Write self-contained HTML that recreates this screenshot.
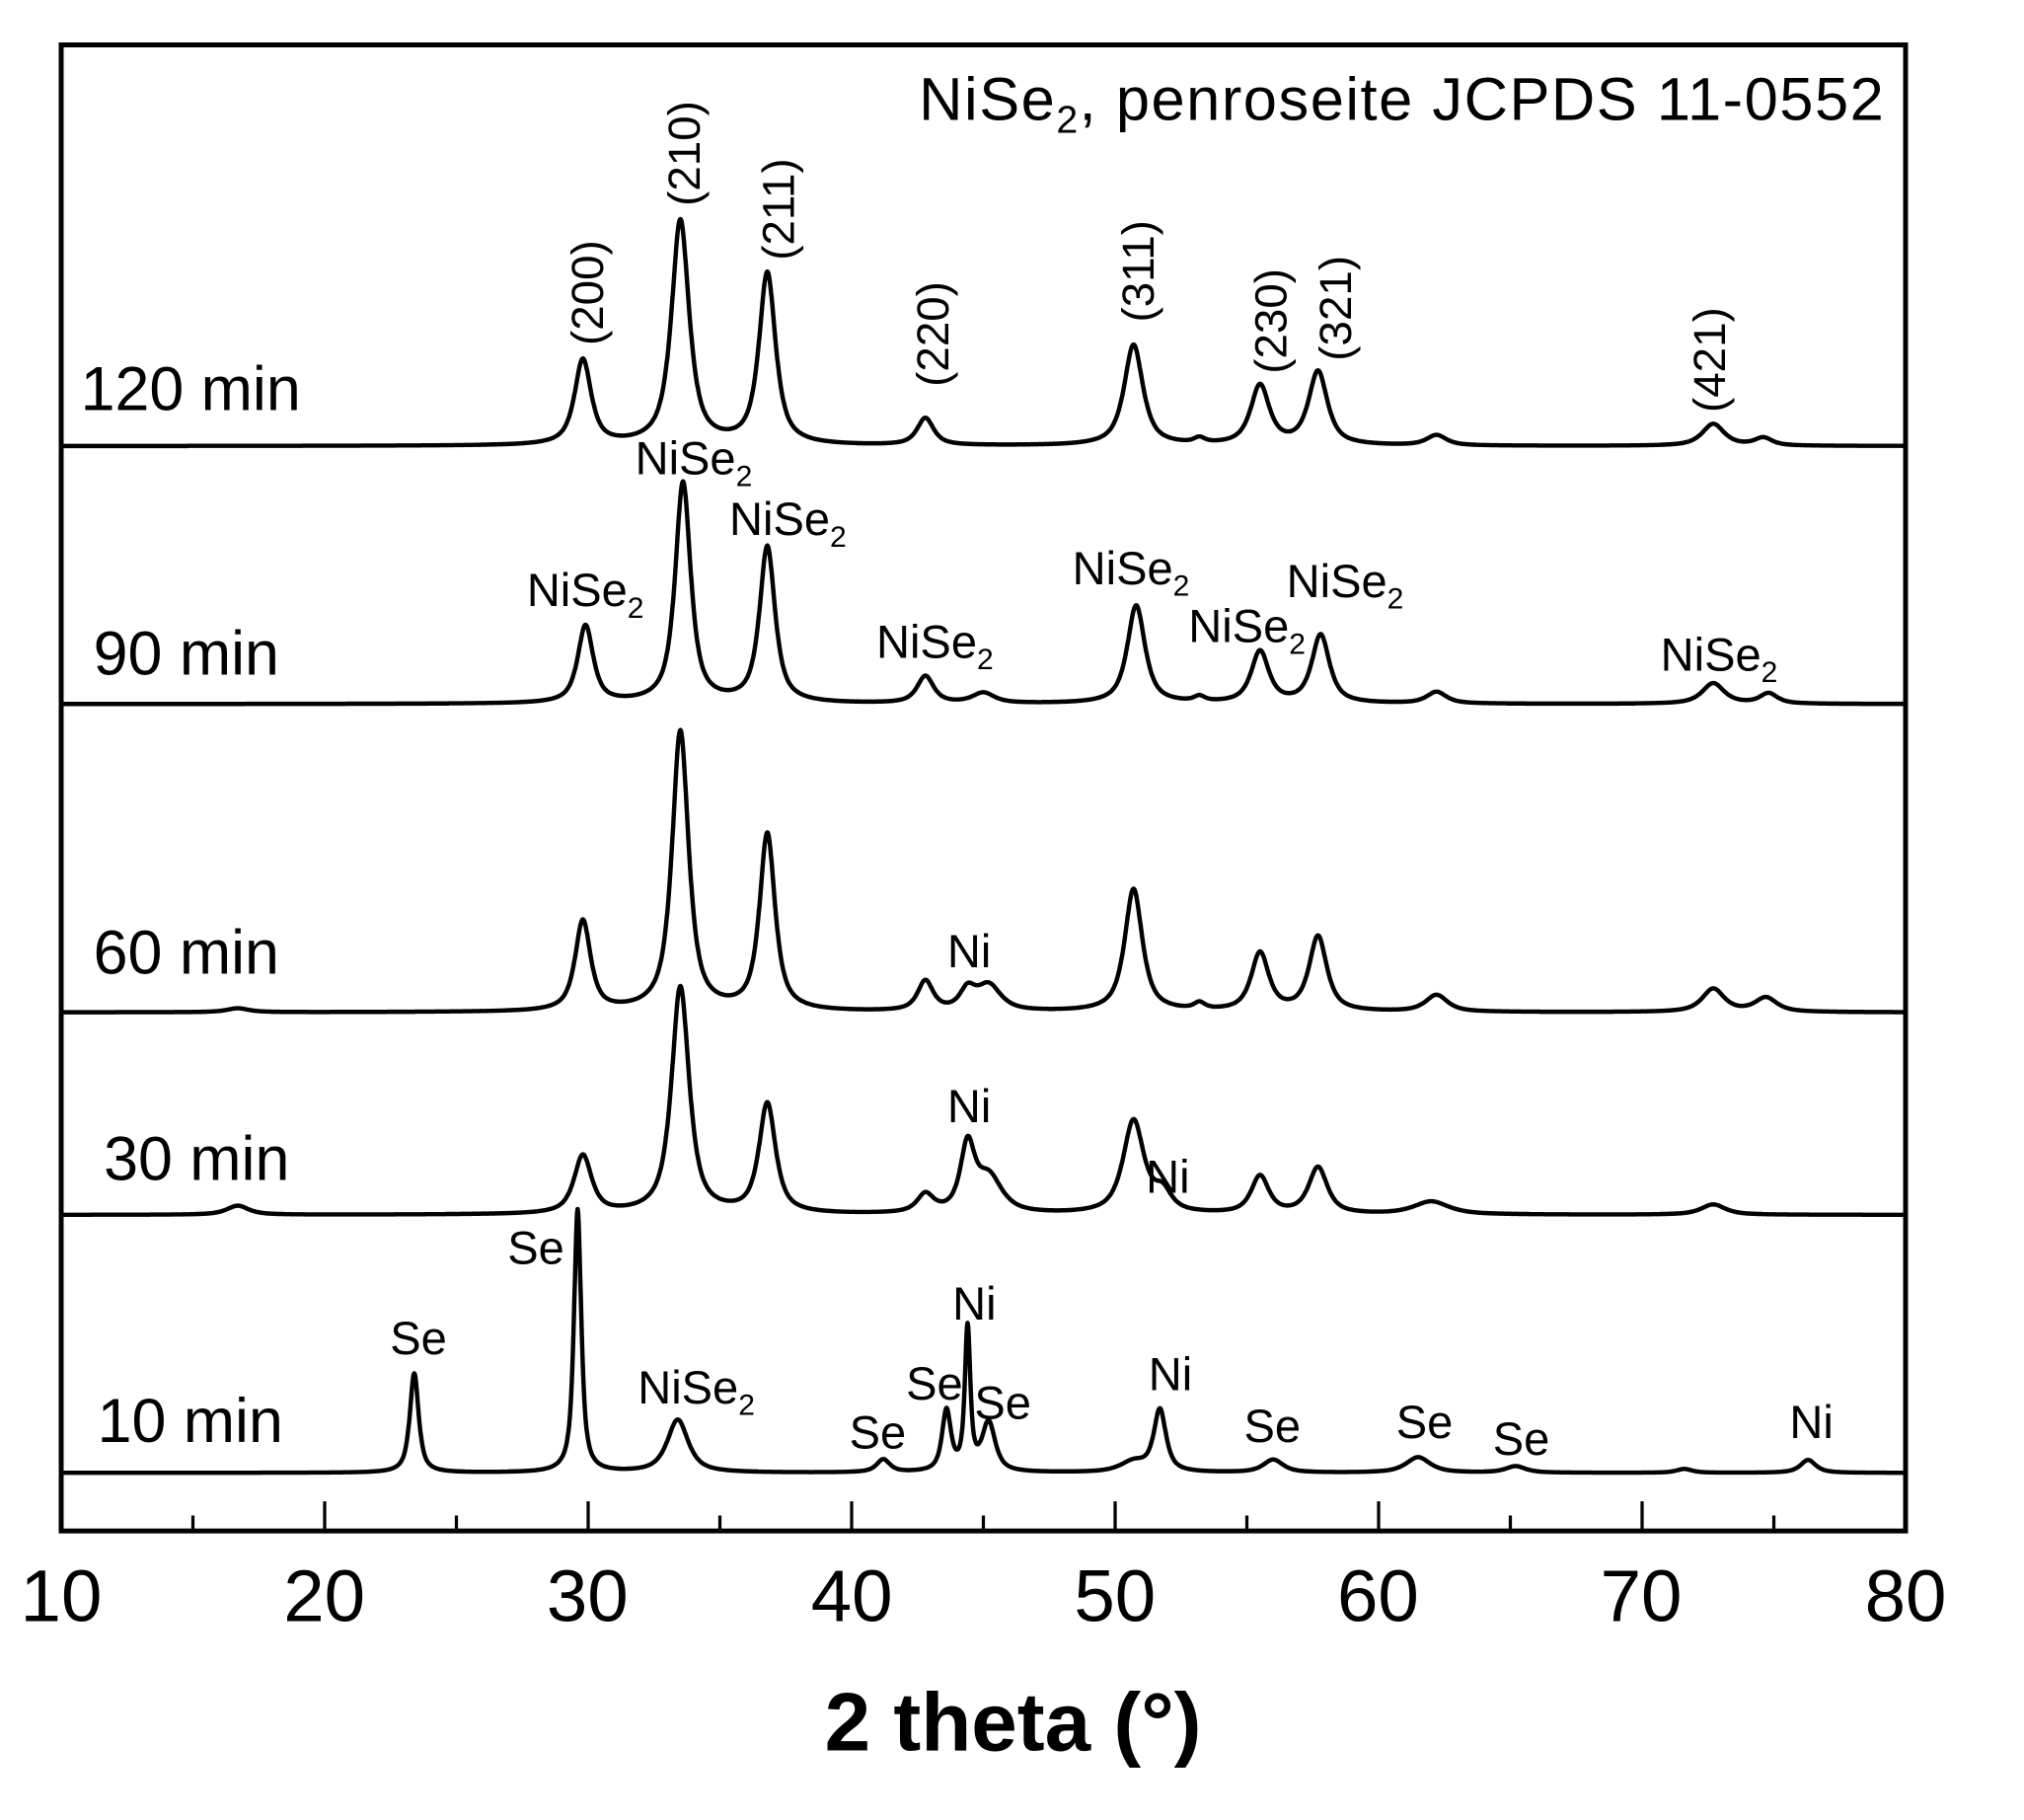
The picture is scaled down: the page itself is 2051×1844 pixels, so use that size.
<!DOCTYPE html>
<html><head><meta charset="utf-8"><style>
html,body{margin:0;padding:0;background:#fff;}
svg{display:block;}
text{font-family:"Liberation Sans",Arial,sans-serif;fill:#000;}
</style></head><body>
<svg id="s" width="2051" height="1844" viewBox="0 0 2051 1844" xmlns="http://www.w3.org/2000/svg">
<g transform="translate(0.57,-0.25) scale(1.307)">
<rect x="47" y="35" width="1430" height="1152" fill="none" stroke="#000" stroke-width="3.8"/>
<g id="ticks" stroke="#000" stroke-width="2.5"></g>
<g id="curves" fill="none" stroke="#000" stroke-width="3.4" stroke-linejoin="round"></g>
<g font-size="57" text-anchor="middle">
<text x="47" y="1257">10</text><text x="251" y="1257">20</text><text x="455" y="1257">30</text>
<text x="660" y="1257">40</text><text x="864" y="1257">50</text><text x="1068" y="1257">60</text>
<text x="1272" y="1257">70</text><text x="1477" y="1257">80</text>
</g>
<text x="785" y="1357" font-size="64" font-weight="bold" text-anchor="middle">2 theta (°)</text>
<text x="1460" y="93" font-size="47" text-anchor="end" textLength="748">NiSe<tspan font-size="30" dy="10">2</tspan><tspan dy="-10">, penroseite JCPDS 11-0552</tspan></text>
<g font-size="48">
<text x="62" y="318">120 min</text><text x="72" y="523">90 min</text>
<text x="72" y="755">60 min</text><text x="80" y="915">30 min</text><text x="75" y="1118">10 min</text>
</g>
<g font-size="35" id="miller"></g>
<g font-size="36" id="lbl"></g>
</g>
</svg>
<script>
var NS="http://www.w3.org/2000/svg";
function X(d){return 47+(d-10)*20.4286;}
var tk=document.getElementById('ticks');
for(var d=15;d<80;d+=5){var l=document.createElementNS(NS,'line');var maj=(d%10==0);
l.setAttribute('x1',X(d));l.setAttribute('x2',X(d));l.setAttribute('y1',1187);l.setAttribute('y2',1187-(maj?23:12));tk.appendChild(l);}
function pv(x,c,w){var t=(x-c)/(w/2);var L=1/(1+t*t);var G=Math.exp(-0.693*t*t);return 0.8*L+0.2*G;}
var series=[
 {b:346,p:[[29.8,66,.75],[33.5,174,.8],[36.8,133,.75],[42.8,21,.75],[50.7,78,.85],[53.2,4,.5],[55.5,46,.85],[57.7,57,.85],[62.2,8,.9],[72.7,17,1.0],[74.6,6,.8]]},
 {b:546,p:[[29.9,60,.7],[33.6,171,.7],[36.8,121,.7],[42.8,21,.75],[45,8,1.0],[50.8,76,.8],[53.2,4,.5],[55.5,40,.8],[57.8,53,.8],[62.2,9,.9],[72.7,16,1.0],[74.8,8,.8]]},
 {b:785,p:[[16.7,3,1.0],[29.8,70,.7],[33.5,217,.75],[36.8,137,.7],[42.8,23,.7],[44.4,15,.7],[45.2,20,1.1],[50.7,95,.8],[53.2,5,.5],[55.5,45,.8],[57.7,58,.8],[62.2,13,1.0],[72.7,18,1.0],[74.7,11,1.0]]},
 {b:942,p:[[16.7,7,1.0],[29.8,45,.8],[33.5,176,.8],[36.8,85,.75],[42.8,14,.75],[44.4,50,.65],[45.2,28,1.2],[50.7,72,.95],[51.8,15,.8],[55.5,29,.8],[57.7,36,.85],[62,10,1.6],[72.7,8,1.1]]},
 {b:1142,p:[[23.4,77,.4],[29.6,204,.33],[33.4,41,.95],[41.2,10,.6],[43.6,47,.4],[44.4,110,.25],[45.2,38,.6],[50.7,8,1.2],[51.7,48,.55],[56,10,.9],[61.5,12,1.1],[65.2,5,.9],[71.6,3,.7],[76.3,10,.7]]}
];
var cg=document.getElementById('curves');
series.forEach(function(s){var pts=[];for(var d=10;d<=80.001;d+=0.02){var y=0;s.p.forEach(function(q){y+=q[1]*pv(d,q[0],q[2]);});pts.push(X(d).toFixed(1)+','+(s.b-y).toFixed(1));}
var pl=document.createElementNS(NS,'polyline');pl.setAttribute('points',pts.join(' '));cg.appendChild(pl);});
var mg=document.getElementById('miller');
[["(200)",455,268],["(210)",530,160],["(211)",603,202],["(220)",723,300],["(311)",882,250],["(230)",985,290],["(321)",1035,280],["(421)",1325,320]].forEach(function(m){
var t=document.createElementNS(NS,'text');t.setAttribute('transform','translate('+(m[1]+12)+','+m[2]+') rotate(-90)');t.textContent=m[0];mg.appendChild(t);});
var lg=document.getElementById('lbl');
function lab(s,x,y){var t=document.createElementNS(NS,'text');t.setAttribute('x',x);t.setAttribute('y',y);
if(s=="NiSe2"){t.appendChild(document.createTextNode("NiSe"));var ts=document.createElementNS(NS,'tspan');ts.setAttribute('font-size','23');ts.setAttribute('dy','9');ts.textContent='2';t.appendChild(ts);}else t.textContent=s;lg.appendChild(t);}
[["NiSe2",408,470],["NiSe2",492,368],["NiSe2",565,415],["NiSe2",679,510],["NiSe2",831,453],["NiSe2",921,498],["NiSe2",997,463],["NiSe2",1287,520],
["Ni",734,750],["Ni",734,870],["Ni",888,925],
["Se",302,1050],["Se",393,980],["NiSe2",494,1088],["Se",658,1123],["Se",702,1085],["Ni",738,1023],["Se",755,1100],["Ni",890,1078],["Se",964,1118],["Se",1082,1115],["Se",1157,1128],["Ni",1387,1115]].forEach(function(a){lab(a[0],a[1],a[2]);});
</script>
</body></html>
